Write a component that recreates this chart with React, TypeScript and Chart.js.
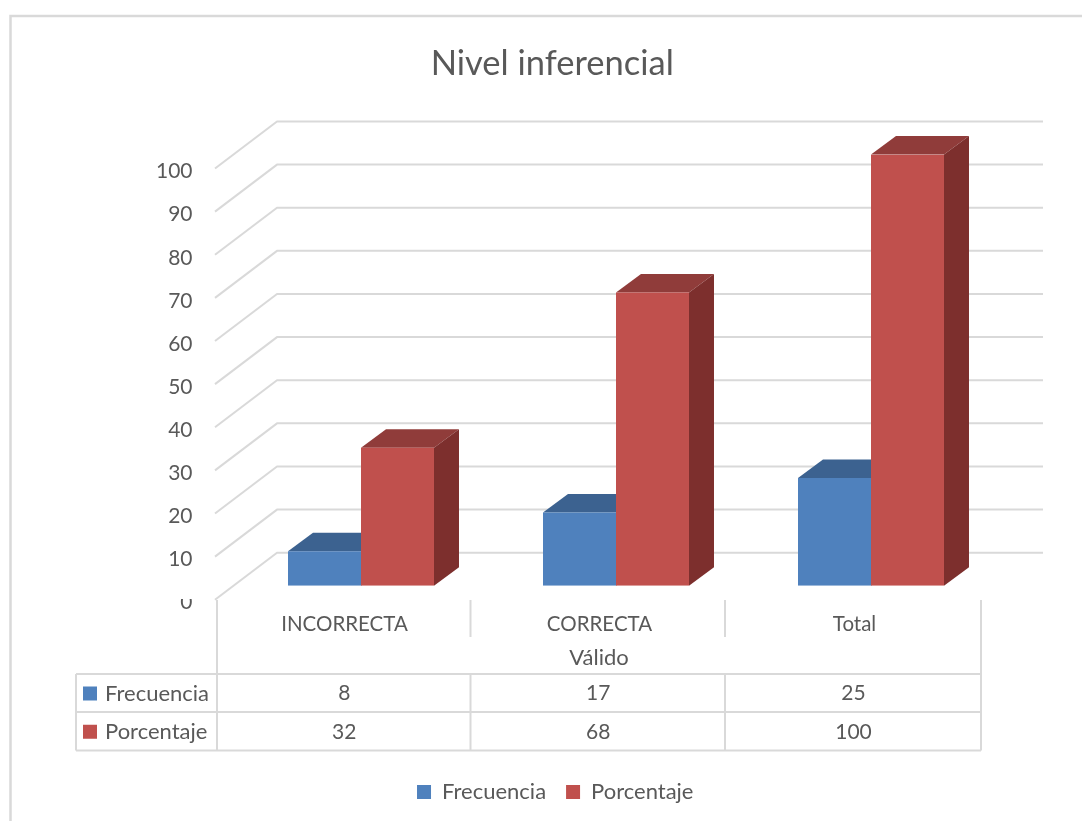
import React, { useEffect, useRef } from "react";
import { Chart, registerables } from "chart.js";

Chart.register(...registerables);

const titleText = "Nivel inferencial";
const groupLabel = "Válido";
const categories = ["INCORRECTA", "CORRECTA", "Total"];
const frecuencia = [8, 17, 25];
const porcentaje = [32, 68, 100];

const FONT = "Lato, 'Open Sans', sans-serif";
const TEXT = "#595959";
const GRID = "#D9D9D9";
const AREA_BOTTOM = 585.7;
const PAD_BOTTOM = 0;

const colors = {
  blue: { front: "#4F81BD", top: "#3C6290", side: "#3A5F8B" },
  red: { front: "#C0504D", top: "#903C3A", side: "#7D2F2D" },
};

const depthPlugin = {
  id: "depth",
  beforeDraw(chart: any) {
    const { ctx, width, height } = chart;
    ctx.save();
    ctx.fillStyle = "#fff";
    ctx.fillRect(0, 0, width, height);
    ctx.strokeStyle = GRID;
    ctx.lineWidth = 2.5;
    ctx.beginPath();
    ctx.moveTo(10.5, height);
    ctx.lineTo(10.5, 16);
    ctx.lineTo(width, 16);
    ctx.stroke();
    ctx.restore();
  },
  afterUpdate(chart: any) {
    const legend = chart.legend;
    if (!legend) return;
    legend.left += 3;
    legend.right += 3;
    legend.top -= 8;
    legend.bottom -= 8;
  },
  beforeDatasetsDraw(chart: any) {
    const { ctx, scales } = chart;
    const y = scales.y;
    ctx.save();
    ctx.strokeStyle = GRID;
    ctx.lineWidth = 2;
    ctx.lineJoin = "round";
    y.ticks.forEach((t: any) => {
      const py = y.getPixelForValue(t.value) - 33;
      ctx.beginPath();
      ctx.moveTo(215, py + 47);
      ctx.lineTo(277, py);
      ctx.lineTo(1043, py);
      ctx.stroke();
    });
    const dx = 25;
    const dy = 18.5;
    chart.data.datasets.forEach((ds: any, i: number) => {
      const palette = i === 0 ? colors.blue : colors.red;
      chart.getDatasetMeta(i).data.forEach((bar: any) => {
        const l = bar.x - bar.width / 2;
        const r = bar.x + bar.width / 2;
        const t = bar.y;
        const b = bar.base;
        ctx.fillStyle = palette.top;
        ctx.beginPath();
        ctx.moveTo(l, t);
        ctx.lineTo(l + dx, t - dy);
        ctx.lineTo(r + dx, t - dy);
        ctx.lineTo(r, t);
        ctx.closePath();
        ctx.fill();
        ctx.fillStyle = palette.side;
        ctx.beginPath();
        ctx.moveTo(r, t);
        ctx.lineTo(r + dx, t - dy);
        ctx.lineTo(r + dx, b - dy);
        ctx.lineTo(r, b);
        ctx.closePath();
        ctx.fill();
      });
    });
    ctx.restore();
  },
  afterDraw(chart: any) {
    const { ctx } = chart;
    ctx.save();
    // the top of the lowest tick label is hidden by the table in the reference
    ctx.fillStyle = "#fff";
    ctx.fillRect(170, 589, 30, 10);

    const xs = [217, 470.5, 725, 981];
    const rows = [674, 712, 750.5];
    const left = 76;
    ctx.strokeStyle = GRID;
    ctx.lineWidth = 2;
    const line = (x1: number, y1: number, x2: number, y2: number) => {
      ctx.beginPath();
      ctx.moveTo(x1, y1);
      ctx.lineTo(x2, y2);
      ctx.stroke();
    };
    line(xs[0], 600, xs[0], rows[2]);
    line(xs[3], 600, xs[3], rows[2]);
    line(xs[1], 600, xs[1], 637);
    line(xs[2], 600, xs[2], 637);
    line(xs[1], rows[0], xs[1], rows[2]);
    line(xs[2], rows[0], xs[2], rows[2]);
    line(left, rows[0], left, rows[2]);
    rows.forEach((r) => line(left, r, xs[3], r));

    ctx.fillStyle = TEXT;
    ctx.font = `22px ${FONT}`;
    ctx.textAlign = "center";
    ctx.textBaseline = "middle";
    ctx.fillText(groupLabel, (xs[0] + xs[3]) / 2, 657.5);

    chart.data.datasets.forEach((ds: any, i: number) => {
      const cy = (rows[i] + rows[i + 1]) / 2 + 0.5;
      ctx.fillStyle = ds.backgroundColor;
      ctx.fillRect(83, cy - 7, 14, 14);
      ctx.fillStyle = TEXT;
      ctx.textAlign = "left";
      ctx.font = `22px ${FONT}`;
      ctx.fillText(ds.label, 105, cy);
      ctx.textAlign = "center";
      ctx.font = `21px ${FONT}`;
      ds.data.forEach((v: number, c: number) => {
        ctx.fillText(String(v), (xs[c] + xs[c + 1]) / 2 + 0.5, cy);
      });
    });
    ctx.restore();
  },
};

export default function App() {
  const ref = useRef<HTMLCanvasElement>(null);
  useEffect(() => {
    if (!ref.current) return;
    const chart = new Chart(ref.current, {
      type: "bar",
      data: {
        labels: categories,
        datasets: [
          {
            label: "Frecuencia",
            data: frecuencia,
            backgroundColor: colors.blue.front,
            barPercentage: 1,
            categoryPercentage: 0.5725,
          },
          {
            label: "Porcentaje",
            data: porcentaje,
            backgroundColor: colors.red.front,
            barPercentage: 1,
            categoryPercentage: 0.5725,
          },
        ],
      },
      options: {
        animation: false,
        responsive: false,
        layout: { padding: { left: 106, right: 83.5, top: 0, bottom: PAD_BOTTOM } },
        plugins: {
          tooltip: { enabled: false },
          title: {
            display: true,
            text: titleText,
            color: TEXT,
            font: { family: FONT, size: 34.5, weight: "normal" },
            padding: { top: 43, bottom: 70.1 },
          },
          legend: {
            position: "bottom",
            labels: {
              boxWidth: 14,
              boxHeight: 14,
              padding: 20,
              color: TEXT,
              font: { family: FONT, size: 22 },
            },
          },
        },
        scales: {
          x: {
            grid: { display: false },
            border: { display: false },
            ticks: {
              color: TEXT,
              font: { family: FONT, size: 20.5 },
              padding: 18,
              labelOffset: -16.5,
              maxRotation: 0,
              autoSkip: false,
            },
            afterFit(s: any) {
              s.height = 821 - PAD_BOTTOM - s.chart.legend.height - AREA_BOTTOM;
            },
          },
          y: {
            min: 0,
            max: 100,
            grid: { display: false },
            border: { display: false },
            ticks: {
              stepSize: 10,
              color: TEXT,
              font: { family: FONT, size: 21 },
              padding: 33,
              labelOffset: 17,
            },
            afterFit(s: any) {
              s.width = 127.5;
            },
          },
        },
      },
      plugins: [depthPlugin],
    } as any);
    return () => chart.destroy();
  }, []);
  return (
    <div style={{ position: "absolute", left: 0, top: 0 }}>
      <canvas ref={ref} width={1082} height={821} style={{ display: "block" }} />
    </div>
  );
}
